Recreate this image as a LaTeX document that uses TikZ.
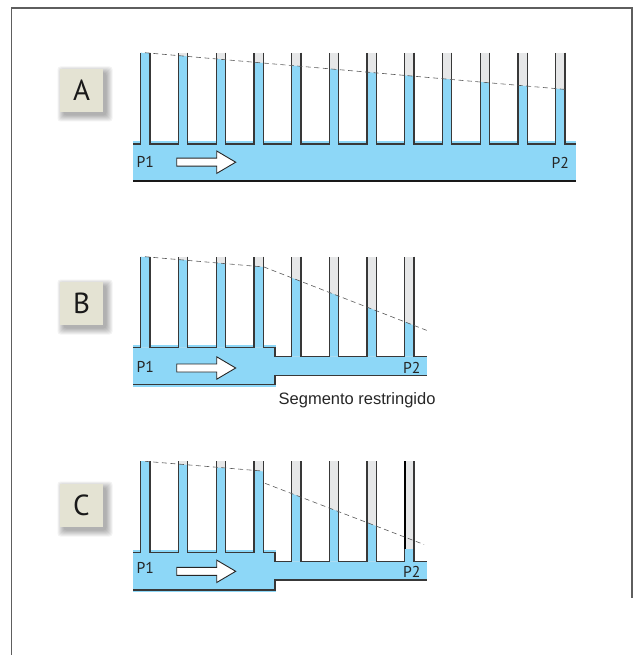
\documentclass[tikz,border=0pt]{standalone}
\usepackage{fontspec}
\setmainfont{Liberation Sans}
\newfontfamily\tagfont{PT Sans}

\definecolor{liquid}{HTML}{8DD7F7}
\definecolor{air}{HTML}{E6E7E8}
\definecolor{wall}{HTML}{383838}
\definecolor{tagfill}{HTML}{E4E3D3}
\definecolor{framegray}{HTML}{5E5E5E}

\tikzset{
  wallline/.style={draw=wall, line width=1.3pt, line join=miter},
  baseline/.style={draw=wall, line width=1.5pt},
  dashline/.style={draw=black!65, line width=0.6pt, dash pattern=on 5pt off 3.5pt},
  arrowline/.style={draw=black!85, fill=white, line width=0.9pt, line join=miter},
  frameline/.style={draw=framegray, line width=1.2pt},
  plabel/.style={font=\tagfont\fontsize{15.7}{16}\selectfont, text=black!85, inner sep=0pt, anchor=west},
  taglabel/.style={font=\tagfont\fontsize{29}{29}\selectfont, text=black!90, inner sep=0pt},
}

% one tube: left edge, top, bottom, liquid level at left wall, liquid level at right wall
\newcommand\drawtube[5]{%
  \fill[air] ({#1+0.7},#2) rectangle ({#1+10},#3);
  \fill[liquid] ({#1+0.7},#4) -- ({#1+10},#5) -- ({#1+10},#3) -- ({#1+0.7},#3) -- cycle;
}

% square letter tag with a soft shadow: x, y of the upper left corner, name, letter
\newcommand\lettertag[4]{%
  \foreach \k in {0,...,6}{%
    \pgfmathsetmacro\e{6-\k}
    \fill[black, opacity=0.05, rounded corners=3pt]
      ({#1+3.5-\e},{#2+3.5-\e}) rectangle ({#1+46.5+\e},{#2+46.5+\e});
  }
  \fill[tagfill] (#1,#2) rectangle ++(43,43);
  \node[taglabel] (#3) at ({#1+21.5},{#2+21.5}) {#4};
}

% hollow block arrow along the channel, centred on height #1
\newcommand\flowarrow[2]{%
  \draw[arrowline] (176.7,{#1-4}) coordinate (#2) -- (216.7,{#1-4}) -- (216.7,{#1-11.2})
    -- (235.7,#1) -- (216.7,{#1+11.2}) -- (216.7,{#1+4}) -- (176.7,{#1+4}) -- cycle;
}

\begin{document}
\begin{tikzpicture}[x=1pt, y=-1pt]
\useasboundingbox (0,0) rectangle (642,655);

% page frame
\draw[frameline] (11.5,655) -- (11.5,8) -- (632,8) -- (632,598);

% ---------------- A: uniform channel ----------------
\lettertag{60}{69}{tagA}{A}
\fill[liquid] (133,141.3) rectangle (576,179.8);
\foreach \i in {0,...,11}{
  \pgfmathsetmacro\L{140+37.73*\i}
  \pgfmathsetmacro\ya{max(52.7,52.7+0.0874*(\L+0.7-145))}
  \pgfmathsetmacro\yb{max(52.7,52.7+0.0874*(\L+10-145))}
  \drawtube{\L}{52.7}{144}{\ya}{\yb}
}
\draw[wallline] (133,144) -- (140.7,144) -- (140.7,52.7);
\foreach \i in {0,...,10}{
  \pgfmathsetmacro\bx{140+37.73*\i+10}
  \pgfmathsetmacro\ax{140+37.73*(\i+1)+0.7}
  \draw[wallline] (\bx,52.7) -- (\bx,144) -- (\ax,144) -- (\ax,52.7);
}
\draw[wallline] (565.03,52.7) -- (565.03,144) -- (576,144);
\draw[draw=black!90, line width=2.2pt] (133,180.7) -- (576,180.7);
\draw[dashline] (145,52.7) -- (566,89.5);
\node[plabel] (p1a) at (136.3,162.2) {P1};
\node[plabel] (p2a) at (551.3,162.5) {P2};
\flowarrow{162.2}{arrA}

% ---------------- B: restricted segment ----------------
\lettertag{60}{282}{tagB}{B}
\fill[liquid] (133,345) rectangle (276,386.5);
\fill[liquid] (275,356.5) rectangle (427,375.5);
\foreach \i in {0,...,7}{
  \pgfmathsetmacro\L{140+37.73*\i}
  \pgfmathsetmacro\ya{\i<4 ? max(256.7,256.7+0.0866*(\L+0.7-145)) : 267+0.3896*(\L+0.7-264)}
  \pgfmathsetmacro\yb{\i<4 ? max(256.7,256.7+0.0866*(\L+10-145)) : 267+0.3896*(\L+10-264)}
  \pgfmathsetmacro\yf{\i<4 ? 347.5 : 356.5}
  \drawtube{\L}{256.7}{\yf}{\ya}{\yb}
}
\draw[wallline] (133,347.5) -- (140.7,347.5) -- (140.7,256.7);
\foreach \i in {0,...,2}{
  \pgfmathsetmacro\bx{140+37.73*\i+10}
  \pgfmathsetmacro\ax{140+37.73*(\i+1)+0.7}
  \draw[wallline] (\bx,256.7) -- (\bx,347.5) -- (\ax,347.5) -- (\ax,256.7);
}
\draw[wallline] (263.19,256.7) -- (263.19,347.5) -- (275,347.5) -- (275,356.5)
  -- (291.62,356.5) -- (291.62,256.7);
\foreach \i in {4,...,6}{
  \pgfmathsetmacro\bx{140+37.73*\i+10}
  \pgfmathsetmacro\ax{140+37.73*(\i+1)+0.7}
  \draw[wallline] (\bx,256.7) -- (\bx,356.5) -- (\ax,356.5) -- (\ax,256.7);
}
\draw[wallline] (414.11,256.7) -- (414.11,356.5) -- (427,356.5);
\draw[baseline] (133,384.5) -- (275,384.5) -- (275,375.5) -- (427,375.5);
\draw[dashline] (145,256.7) -- (264,267) -- (427,330.5);
\node[plabel] (p1b) at (136.3,367.2) {P1};
\node[plabel] (p2b) at (403,367.5) {P2};
\flowarrow{368}{arrB}
\node[font=\fontsize{16.5}{18}\selectfont, text=black!85, inner sep=0pt, anchor=base west]
  (restr) at (278.5,404) {Segmento restringido};

% ---------------- C: restricted segment, last tube low ----------------
\lettertag{60}{484}{tagC}{C}
\fill[liquid] (133,550) rectangle (276,592);
\fill[liquid] (275,561.7) rectangle (427,580);
\foreach \i in {0,...,7}{
  \pgfmathsetmacro\L{140+37.73*\i}
  \pgfmathsetmacro\ya{\i<4 ? max(461,461.3+0.0855*(\L+0.7-145)) : (\i<7 ? 483.3+0.385*(\L+0.7-265) : 549)}
  \pgfmathsetmacro\yb{\i<4 ? max(461,461.3+0.0855*(\L+10-145)) : (\i<7 ? 483.3+0.385*(\L+10-265) : 549)}
  \pgfmathsetmacro\yf{\i<4 ? 552.3 : 561.7}
  \drawtube{\L}{461}{\yf}{\ya}{\yb}
}
\draw[wallline] (133,552.3) -- (140.7,552.3) -- (140.7,461);
\foreach \i in {0,...,2}{
  \pgfmathsetmacro\bx{140+37.73*\i+10}
  \pgfmathsetmacro\ax{140+37.73*(\i+1)+0.7}
  \draw[wallline] (\bx,461) -- (\bx,552.3) -- (\ax,552.3) -- (\ax,461);
}
\draw[wallline] (263.19,461) -- (263.19,552.3) -- (275,552.3) -- (275,561.7)
  -- (291.62,561.7) -- (291.62,461);
\foreach \i in {4,...,6}{
  \pgfmathsetmacro\bx{140+37.73*\i+10}
  \pgfmathsetmacro\ax{140+37.73*(\i+1)+0.7}
  \draw[wallline] (\bx,461) -- (\bx,561.7) -- (\ax,561.7) -- (\ax,461);
}
\draw[draw=black, line width=2.2pt] (404.81,461) -- (404.81,549);
\draw[wallline] (414.11,461) -- (414.11,561.7) -- (427,561.7);
\draw[baseline] (133,590) -- (275,590) -- (275,580) -- (427,580);
\draw[dashline] (145,461.3) -- (262,471);
\draw[dashline] (265,483.3) -- (424,544.5);
\node[plabel] (p1c) at (136.3,567.8) {P1};
\node[plabel] (p2c) at (403,571.7) {P2};
\flowarrow{571.3}{arrC}
\end{tikzpicture}
\end{document}
